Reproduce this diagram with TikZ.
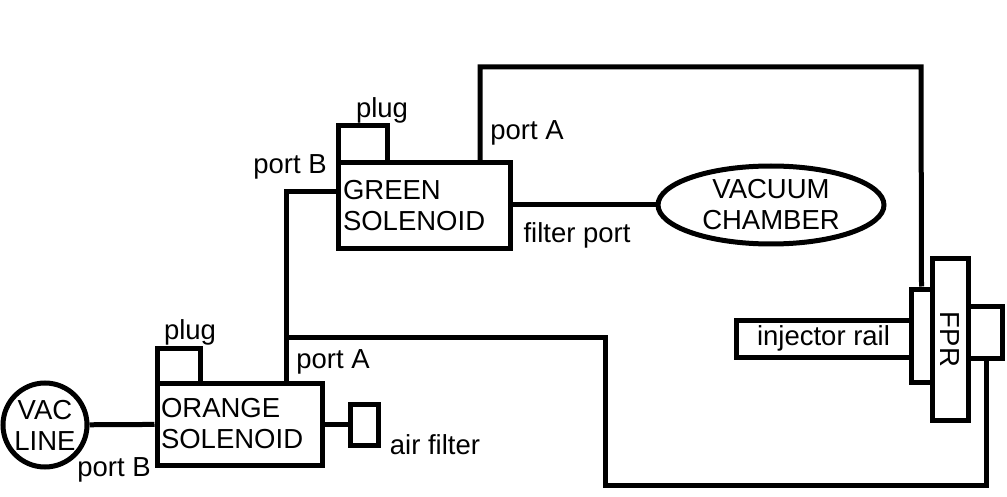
\documentclass[tikz,border=0pt]{standalone}
\usepackage{fontspec}
\setmainfont{Liberation Sans}
\usetikzlibrary{shapes.geometric}
\begin{document}
\begin{tikzpicture}[x=1pt,y=-1pt,line width=5pt,
    box/.style={draw,rectangle,inner sep=0pt,font=\fontsize{27.5}{31}\selectfont},
    lbl/.style={font=\fontsize{27.5}{31}\selectfont,inner sep=0pt}]
    \useasboundingbox(0,0)rectangle(1007,497);
    % parts
    \node[box,circle,minimum size=84,align=center](vac)at(45,425){VAC\\LINE};
    \node[box,minimum width=165,minimum height=82,text width=157,align=left](orange)at(239.5,424){ORANGE\\SOLENOID};
    \node[box,minimum width=43,minimum height=35](oplug)at(178.5,365.5){};
    \node[box,minimum width=28,minimum height=41](filter)at(364,424.5){};
    \node[box,minimum width=172,minimum height=86,text width=162,align=left](green)at(424,206){GREEN\\SOLENOID};
    \node[box,minimum width=49,minimum height=37](gplug)at(362.5,144.5){};
    \node[box,ellipse,minimum width=226,minimum height=78,inner sep=-6pt,align=center](chamber)at(771,205){VACUUM\\CHAMBER};
    \node[box,minimum width=36,minimum height=161](fpr)at(950,339.5){\rotatebox{-90}{FPR}};
    \node[box,minimum width=21,minimum height=93](fprl)at(921.5,335.5){};
    \node[box,minimum width=34,minimum height=52](fprr)at(985,332){};
    \node[box,minimum width=175,minimum height=37](rail)at(823.5,338.5){injector rail};
    % lines
    \coordinate(j1)at(286,337);
    \coordinate(j2)at(286,192);
    \draw(vac)--(orange);
    \draw(orange.east|-filter)--(filter);
    \draw(orange.north-|j1)--(j1)--(j2)--(green.west|-j2);
    \draw(j1)--(605,337)--(605,485)--(986,485)--(fprr.south-|986,0);
    \draw(green.north-|480,0)--(480,67)--(921,67)--(fprl.north);
    \draw(green.east|-chamber)--(chamber);
    % labels
    \node[lbl]at(114,470){port B};
    \node[lbl]at(190,332){plug};
    \node[lbl]at(333,362){port A};
    \node[lbl]at(435,445){air filter};
    \node[lbl]at(290,167){port B};
    \node[lbl]at(382,110){plug};
    \node[lbl]at(527,133){port A};
    \node[lbl]at(577,235){filter port};
\end{tikzpicture}
\end{document}
